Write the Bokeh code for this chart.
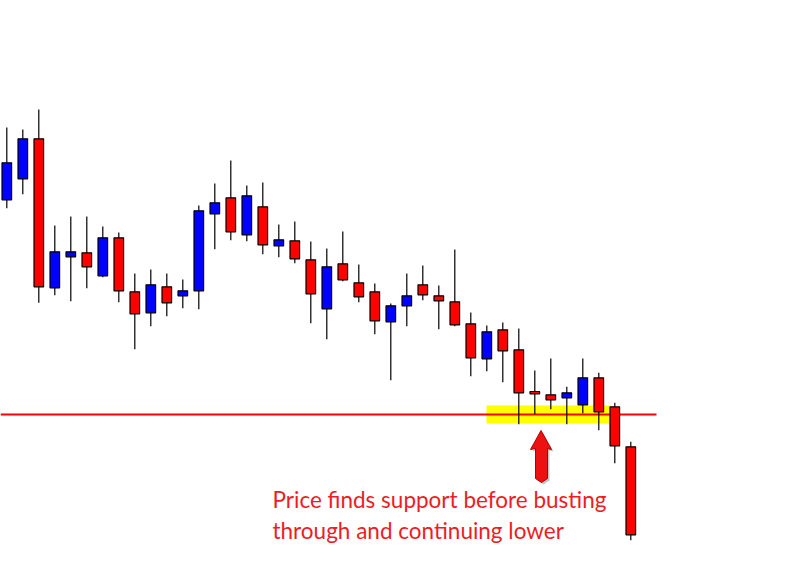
from bokeh.plotting import figure
from bokeh.models import Range1d, ColumnDataSource
from bokeh.core.properties import value
from bokeh.embed import file_html
from bokeh.resources import INLINE

# ---- data (price candles, oldest -> newest) ----
opens = [1.34007, 1.34217, 1.34617, 1.33127, 1.33437, 1.33477, 1.33247, 1.33627, 1.33087, 1.32877,
         1.33137, 1.33047, 1.33097, 1.33867, 1.34027, 1.33657, 1.33937, 1.33547, 1.33597, 1.33407,
         1.32917, 1.33367, 1.33177, 1.33087, 1.32787, 1.32947, 1.33157, 1.33047, 1.32987, 1.32767,
         1.32417, 1.32707, 1.32507, 1.32090, 1.32057, 1.32027, 1.31957, 1.32227, 1.31937, 1.31537]
closes = [1.34377, 1.34617, 1.33137, 1.33487, 1.33487, 1.33337, 1.33627, 1.33097, 1.32867, 1.33157,
          1.32977, 1.33097, 1.33897, 1.33977, 1.33687, 1.34047, 1.33557, 1.33607, 1.33417, 1.33067,
          1.33337, 1.33207, 1.33037, 1.32797, 1.32947, 1.33047, 1.33057, 1.32997, 1.32757, 1.32427,
          1.32687, 1.32497, 1.32077, 1.32067, 1.32007, 1.32077, 1.32227, 1.31887, 1.31547, 1.30657]
highs = [1.34730, 1.34710, 1.34910, 1.33750, 1.33840, 1.33840, 1.33740, 1.33680, 1.33270, 1.33310,
         1.33270, 1.33210, 1.33950, 1.34170, 1.34400, 1.34150, 1.34180, 1.33760, 1.33790, 1.33590,
         1.33520, 1.33690, 1.33360, 1.33170, 1.32970, 1.33270, 1.33350, 1.33150, 1.33510, 1.32880,
         1.32750, 1.32780, 1.32720, 1.32300, 1.32420, 1.32137, 1.32420, 1.32277, 1.31977, 1.31587]
lows = [1.33923, 1.34063, 1.32977, 1.33053, 1.32993, 1.33123, 1.33233, 1.32983, 1.32513, 1.32743,
        1.32843, 1.32923, 1.32913, 1.33513, 1.33603, 1.33593, 1.33463, 1.33433, 1.33373, 1.32773,
        1.32613, 1.33193, 1.32983, 1.32663, 1.32203, 1.32743, 1.33003, 1.32713, 1.32743, 1.32243,
        1.32293, 1.32183, 1.31763, 1.31863, 1.31913, 1.31763, 1.31873, 1.31703, 1.31373, 1.30603]
support_level = 1.3186
annotation_lines = ["Price finds support before busting", "through and continuing lower"]

# ---- layout helpers (screen pixel -> data) ----
W, H = 785, 554
X0, DX = 6.3, 16.0            # first candle centre (px) and spacing (px)
Y_TOP, PPP = 1.3600, 0.0001   # price at top edge, price per pixel


def px2x(px):
    return (px - X0) / DX


def py2y(py):
    return Y_TOP - py * PPP


n = len(opens)
idx = list(range(n))
bull = [c >= o for o, c in zip(opens, closes)]
src = ColumnDataSource(dict(
    x=idx,
    top=[max(o, c) for o, c in zip(opens, closes)],
    bottom=[min(o, c) for o, c in zip(opens, closes)],
    high=highs, low=lows,
    color=["#0000FF" if b else "#FF0000" for b in bull],
))

p = figure(width=W, height=H, output_backend="svg", toolbar_location=None,
           x_range=Range1d(px2x(0), px2x(W)), y_range=Range1d(py2y(H), py2y(0)),
           min_border=0)
p.axis.visible = False
p.grid.visible = False
p.outline_line_color = None
p.background_fill_color = "white"

# yellow highlight zone
p.quad(left=px2x(486), right=px2x(610), bottom=py2y(423), top=py2y(405),
       fill_color="#FFFF00", line_color=None)

# support line
p.segment(x0=px2x(0), x1=px2x(656), y0=support_level, y1=support_level,
          line_color="#FF0000", line_width=2)

# candles
p.segment(x0="x", x1="x", y0="low", y1="high", source=src, line_color="black", line_width=1.2)
p.vbar(x="x", width=0.6, top="top", bottom="bottom", source=src,
       fill_color="color", line_color="black", line_width=1.2)

# arrow (shadow + body)
arrow_px = [(540.5, 430), (551, 449), (547, 448), (547, 478), (541, 482), (535, 478),
            (535, 448), (530, 449)]
p.patch([px2x(a + 2) for a, b in arrow_px], [py2y(b + 2) for a, b in arrow_px],
        fill_color="#888888", fill_alpha=0.5, line_color=None)
p.patch([px2x(a) for a, b in arrow_px], [py2y(b) for a, b in arrow_px],
        fill_color="#EE1111", line_color="#B00000", line_width=1)

# annotation text
p.text(x=[px2x(272), px2x(272)], y=[py2y(499), py2y(530)], text=annotation_lines,
       text_font=value("Lato"), text_font_size="22.5px", text_color="#EE1C25",
       text_baseline="alphabetic", text_align="left")

open("out.html", "w").write(file_html(p, INLINE))
